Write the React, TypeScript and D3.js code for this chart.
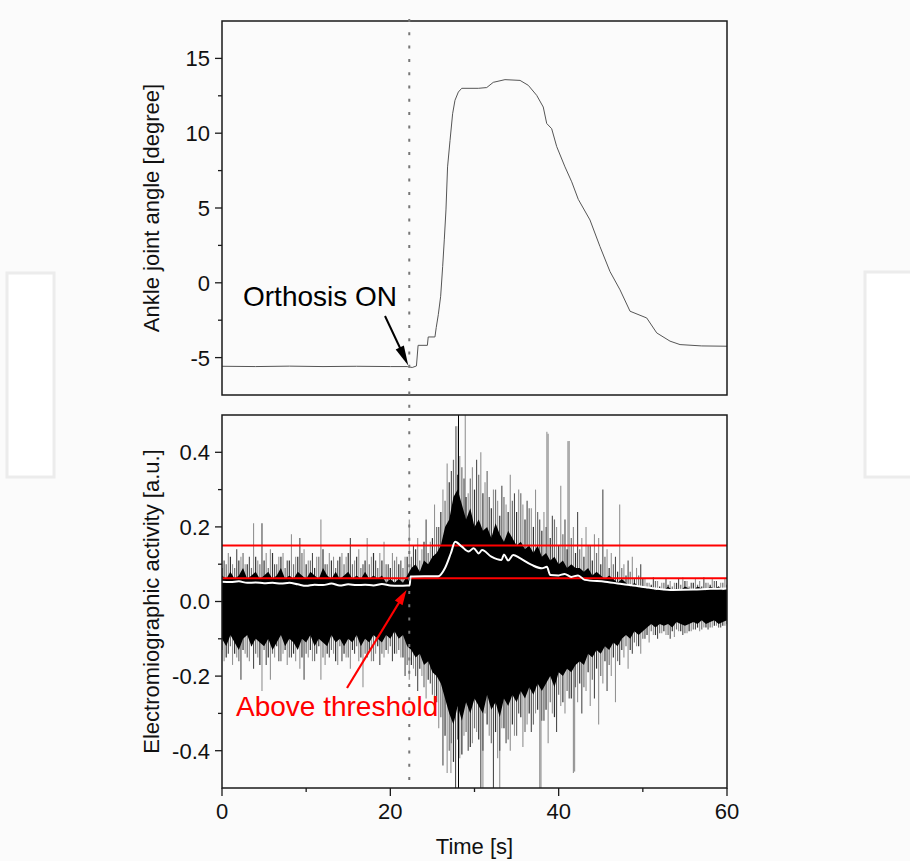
import React from "react";
import * as d3 from "d3";

// ---------- DATA ----------
const angleTime = [0, 4, 8, 12, 16, 20, 22.0, 22.6, 23.1, 23.3, 24.4, 24.5, 25.3, 25.45, 25.7, 25.98, 26.22, 26.41, 26.61, 26.8, 27.09, 27.4, 27.68, 28.08, 28.48, 30.45, 31.45, 32.23, 33.62, 35.41, 36.39, 37.39, 38.17, 38.58, 39.17, 39.77, 40.75, 41.55, 42.33, 43.72, 44.91, 46.1, 47.29, 48.48, 50.46, 51.65, 53.23, 54.42, 57, 60];
const angleDeg = [-5.58, -5.6, -5.57, -5.6, -5.58, -5.6, -5.6, -5.66, -5.56, -4.18, -4.18, -3.62, -3.62, -3.0, -2.13, -0.9, 1.1, 2.87, 4.87, 7.75, 9.5, 11.3, 12.2, 12.75, 13.0, 13.0, 13.05, 13.4, 13.58, 13.53, 13.2, 12.53, 11.75, 10.65, 10.3, 9.1, 7.75, 6.75, 5.58, 4.2, 2.42, 0.75, -0.47, -1.9, -2.35, -3.35, -3.9, -4.13, -4.22, -4.24];

// EMG dense core envelope, sampled every 0.5 s from 0 to 60 s
const emgCoreHigh = [
  0.07, 0.06, 0.08, 0.06, 0.07, 0.09, 0.06, 0.07, 0.08, 0.06,
  0.07, 0.08, 0.06, 0.07, 0.09, 0.06, 0.07, 0.06, 0.08, 0.07,
  0.06, 0.08, 0.07, 0.06, 0.09, 0.07, 0.06, 0.08, 0.06, 0.07,
  0.08, 0.06, 0.07, 0.06, 0.08, 0.06, 0.07, 0.06, 0.07, 0.05,
  0.06, 0.05, 0.06, 0.05, 0.07,
  0.09, 0.1, 0.08, 0.11, 0.1, 0.12, 0.13, 0.15,
  0.2, 0.22, 0.28, 0.3, 0.26, 0.22, 0.25, 0.2,
  0.22, 0.19, 0.2, 0.17, 0.21, 0.18, 0.16, 0.19,
  0.17, 0.15, 0.16, 0.14, 0.15, 0.13, 0.15, 0.12,
  0.13, 0.11, 0.12, 0.1, 0.11, 0.09, 0.1, 0.09,
  0.09, 0.08, 0.09, 0.07, 0.08, 0.07, 0.06, 0.07,
  0.06, 0.05, 0.06, 0.05, 0.04, 0.05, 0.04, 0.04,
  0.035, 0.04, 0.03, 0.035, 0.03, 0.04, 0.03, 0.035, 0.03, 0.04,
  0.035, 0.03, 0.04, 0.035, 0.03, 0.04, 0.035, 0.04, 0.03, 0.035,
];
const emgCoreLow = [
  -0.1, -0.12, -0.09, -0.11, -0.13, -0.1, -0.09, -0.12, -0.1, -0.11,
  -0.12, -0.1, -0.13, -0.11, -0.09, -0.12, -0.1, -0.11, -0.13, -0.1,
  -0.11, -0.09, -0.12, -0.1, -0.11, -0.12, -0.09, -0.11, -0.1, -0.12,
  -0.1, -0.11, -0.09, -0.12, -0.1, -0.11, -0.09, -0.1, -0.11, -0.09,
  -0.1, -0.08, -0.1, -0.09, -0.12,
  -0.13, -0.15, -0.14, -0.17, -0.16, -0.19, -0.2, -0.22,
  -0.26, -0.3, -0.33, -0.28, -0.32, -0.27, -0.3, -0.26,
  -0.28, -0.3, -0.25, -0.29, -0.27, -0.31, -0.26, -0.28,
  -0.25, -0.27, -0.24, -0.26, -0.23, -0.25, -0.22, -0.24,
  -0.22, -0.2, -0.23, -0.19, -0.2, -0.18, -0.19, -0.17,
  -0.16, -0.17, -0.14, -0.15, -0.13, -0.14, -0.12, -0.13,
  -0.11, -0.12, -0.1, -0.09, -0.1, -0.08, -0.09, -0.08,
  -0.07, -0.06, -0.07, -0.06, -0.065, -0.06, -0.07, -0.055, -0.06, -0.065,
  -0.06, -0.055, -0.06, -0.05, -0.06, -0.055, -0.05, -0.06, -0.055, -0.05,
];
// secondary spikes, one per half second (at 0, 0.5, ... 60 s)
const emgSpikeUp2 = [
  0.09, 0.1, 0.12, 0.09, 0.11, 0.13, 0.1, 0.09, 0.12, 0.1,
  0.11, 0.09, 0.13, 0.1, 0.12, 0.09, 0.11, 0.1, 0.12, 0.13,
  0.1, 0.11, 0.09, 0.12, 0.14, 0.1, 0.11, 0.09, 0.12, 0.1,
  0.13, 0.1, 0.12, 0.09, 0.11, 0.1, 0.13, 0.09, 0.11, 0.1,
  0.09, 0.11, 0.1, 0.09, 0.12,
  0.12, 0.14, 0.11, 0.16, 0.13, 0.17, 0.2, 0.24,
  0.27, 0.32, 0.38, 0.34, 0.36, 0.28, 0.33, 0.3,
  0.34, 0.29, 0.35, 0.25, 0.3, 0.23, 0.28, 0.24,
  0.27, 0.24, 0.29, 0.22, 0.25, 0.2, 0.24, 0.19,
  0.2, 0.17, 0.22, 0.15, 0.18, 0.14, 0.17, 0.13,
  0.14, 0.12, 0.15, 0.11, 0.13, 0.1, 0.12, 0.09,
  0.1, 0.08, 0.09, 0.07, 0.08, 0.06, 0.07, 0.06,
  0.05, 0.045, 0.055, 0.04, 0.05, 0.045, 0.04, 0.05, 0.045, 0.055,
  0.04, 0.05, 0.045, 0.04, 0.05, 0.045, 0.055, 0.04, 0.05, 0.045,
];
const emgSpikeDown2 = [
  -0.13, -0.15, -0.12, -0.14, -0.16, -0.13, -0.15, -0.12, -0.14, -0.17,
  -0.13, -0.15, -0.14, -0.12, -0.16, -0.13, -0.15, -0.14, -0.12, -0.15,
  -0.14, -0.13, -0.16, -0.12, -0.15, -0.14, -0.13, -0.16, -0.12, -0.14,
  -0.15, -0.13, -0.12, -0.15, -0.14, -0.13, -0.16, -0.12, -0.14, -0.13,
  -0.12, -0.14, -0.13, -0.15, -0.17,
  -0.17, -0.2, -0.18, -0.23, -0.21, -0.25, -0.27, -0.31,
  -0.36, -0.4, -0.43, -0.37, -0.41, -0.35, -0.39, -0.34,
  -0.37, -0.4, -0.33, -0.38, -0.35, -0.4, -0.34, -0.37,
  -0.33, -0.36, -0.31, -0.35, -0.3, -0.33, -0.29, -0.32,
  -0.29, -0.27, -0.31, -0.25, -0.27, -0.24, -0.26, -0.23,
  -0.22, -0.23, -0.19, -0.21, -0.18, -0.2, -0.16, -0.17,
  -0.15, -0.16, -0.13, -0.12, -0.13, -0.11, -0.12, -0.1,
  -0.09, -0.08, -0.09, -0.085, -0.08, -0.09, -0.08, -0.075, -0.08, -0.085,
  -0.08, -0.075, -0.07, -0.075, -0.07, -0.07, -0.065, -0.07, -0.065, -0.06,
];
// EMG spike extremes, one per half second (at 0.25, 0.75, ... 59.75 s)
const emgPeakUp = [
  0.11, 0.13, 0.1, 0.14, 0.12, 0.1, 0.12, 0.21, 0.11, 0.21,
  0.13, 0.14, 0.1, 0.12, 0.13, 0.11, 0.18, 0.12, 0.17, 0.14,
  0.11, 0.13, 0.12, 0.22, 0.1, 0.13, 0.12, 0.11, 0.13, 0.12,
  0.17, 0.11, 0.14, 0.1, 0.17, 0.12, 0.11, 0.13, 0.16, 0.1,
  0.13, 0.12, 0.11, 0.12,
  0.22, 0.15, 0.17, 0.14, 0.22, 0.16, 0.26, 0.2,
  0.3, 0.37, 0.35, 0.47, 0.39, 0.33, 0.29, 0.36,
  0.38, 0.4, 0.32, 0.28, 0.3, 0.27, 0.31, 0.26,
  0.34, 0.29, 0.3, 0.26, 0.27, 0.25, 0.3, 0.22,
  0.24, 0.45, 0.23, 0.2, 0.31, 0.22, 0.43, 0.2,
  0.24, 0.17, 0.2, 0.15, 0.18, 0.17, 0.3, 0.14,
  0.13, 0.12, 0.26, 0.1, 0.11, 0.12, 0.09, 0.1,
  0.06, 0.05, 0.065, 0.055, 0.05, 0.06, 0.055, 0.05, 0.06, 0.065,
  0.055, 0.05, 0.06, 0.055, 0.065, 0.05, 0.06, 0.055, 0.05, 0.06,
];
const emgPeakDown = [
  -0.16, -0.14, -0.17, -0.15, -0.21, -0.14, -0.16, -0.18, -0.15, -0.24,
  -0.17, -0.21, -0.15, -0.16, -0.14, -0.17, -0.15, -0.16, -0.18, -0.21,
  -0.15, -0.16, -0.14, -0.21, -0.17, -0.15, -0.14, -0.17, -0.16, -0.15,
  -0.18, -0.14, -0.16, -0.23, -0.15, -0.16, -0.14, -0.17, -0.15, -0.14,
  -0.16, -0.14, -0.15, -0.2,
  -0.21, -0.18, -0.24, -0.2, -0.26, -0.22, -0.3, -0.34,
  -0.44, -0.46, -0.38, -0.5, -0.42, -0.36, -0.4, -0.38,
  -0.35, -0.5, -0.3, -0.36, -0.5, -0.42, -0.34, -0.38,
  -0.4, -0.36, -0.3, -0.39, -0.33, -0.35, -0.3, -0.5,
  -0.32, -0.38, -0.3, -0.35, -0.28, -0.3, -0.26, -0.46,
  -0.27, -0.3, -0.24, -0.28, -0.26, -0.33, -0.22, -0.24,
  -0.2, -0.27, -0.17, -0.15, -0.18, -0.14, -0.12, -0.14,
  -0.1, -0.11, -0.09, -0.1, -0.085, -0.09, -0.1, -0.095, -0.08, -0.09,
  -0.085, -0.08, -0.075, -0.08, -0.07, -0.075, -0.07, -0.065, -0.07, -0.065,
];
// isolated tall spikes [time, low, high]
const emgTallSpikes = [
  [28.1, -0.6, 0.6],
  [28.9, 0, 0.6],
  [27.9, 0, 0.47],
  [38.6, 0, 0.455],
  [41.1, 0, 0.43],
  [31.0, -0.6, 0],
  [33.0, -0.6, 0],
  [37.9, -0.6, 0],
  [41.9, -0.456, 0],
  [27.2, -0.46, 0],
];

// smoothed envelope – white line
const envTime = [0, 1, 2, 3, 4, 5, 6, 7, 8, 9, 10, 11, 12, 13, 14, 15, 16, 17, 18, 19, 20, 21, 22, 22.3, 22.4, 25.7, 26.5, 27.2, 27.7, 28.5, 29.3, 29.9, 30.5, 30.9, 32.0, 33.2, 33.5, 34.0, 34.6, 35.4, 36.8, 38.0, 38.6, 39.0, 40.0, 40.7, 41.5, 42.3, 43.1, 45.5, 47.5, 49.7, 51.5, 53.6, 56, 58, 60];
const envValue = [0.053, 0.052, 0.054, 0.05, 0.051, 0.049, 0.05, 0.048, 0.05, 0.046, 0.042, 0.045, 0.044, 0.048, 0.043, 0.046, 0.044, 0.045, 0.043, 0.047, 0.043, 0.042, 0.043, 0.043, 0.067, 0.068, 0.09, 0.13, 0.16, 0.147, 0.134, 0.143, 0.129, 0.138, 0.12, 0.111, 0.126, 0.11, 0.125, 0.116, 0.098, 0.089, 0.093, 0.071, 0.07, 0.074, 0.066, 0.07, 0.058, 0.053, 0.047, 0.04, 0.035, 0.031, 0.032, 0.034, 0.035];

const thresholds = [0.15, 0.062];
const orthosisOnTime = 22.25;

const xMajor = [0, 20, 40, 60];
const xMinor = [10, 30, 50];
const angleMajor = [-5, 0, 5, 10, 15];
const angleMinor = [-2.5, 2.5, 7.5, 12.5];
const emgMajor = [-0.4, -0.2, 0, 0.2, 0.4];
const emgMinor = [-0.3, -0.1, 0.1, 0.3];

// ---------- LAYOUT ----------
const W = 910;
const H = 861;
const L = 222;
const R = 727;
const topP = { top: 21, bottom: 395 };
const botP = { top: 415, bottom: 788 };
const FONT = "'Liberation Sans', Arial, Helvetica, sans-serif";
const FS = 22;

function arrowHead(tip: number[], from: number[], len: number, hw: number) {
  const ang = Math.atan2(tip[1] - from[1], tip[0] - from[0]);
  const bx = tip[0] - len * Math.cos(ang);
  const by = tip[1] - len * Math.sin(ang);
  return `M${tip[0]},${tip[1]} L${bx + hw * Math.sin(ang)},${by - hw * Math.cos(ang)} L${bx - hw * Math.sin(ang)},${by + hw * Math.cos(ang)} Z`;
}

export default function App() {
  const x = d3.scaleLinear().domain([0, 60]).range([L, R]);
  const yA = d3.scaleLinear().domain([-7.5, 17.5]).range([topP.bottom, topP.top]);
  const yE = d3.scaleLinear().domain([-0.5, 0.5]).range([botP.bottom, botP.top]);

  const angleLine = d3
    .line<number>()
    .x((_, i) => x(angleTime[i]))
    .y((d) => yA(d))(angleDeg);

  const coreArea = d3
    .area<number>()
    .x((_, i) => x(i * 0.5))
    .y0((_, i) => yE(emgCoreLow[i]))
    .y1((d) => yE(d))(emgCoreHigh);

  const envLine = d3
    .line<number>()
    .x((_, i) => x(envTime[i]))
    .y((d) => yE(d))
    .curve(d3.curveMonotoneX)(envValue);

  const fmtE = (v: number) => (v === 0 ? "0.0" : d3.format(".1f")(v).replace("−", "-"));

  const tickLabelStyle = { fontFamily: FONT, fontSize: FS, fill: "#111" } as const;
  const yOrthTip = yA(-5.6) - 1;
  const orthTip = [x(orthosisOnTime) - 1, yOrthTip];
  const orthFrom = [385, 316];
  const redTip = [406.5, 590];
  const redFrom = [347, 688];

  const spikeLine = (t: number, v: number, key: string, op: number, w = 1.1) => (
    <line key={key} x1={x(t)} x2={x(t)} y1={yE(0)} y2={yE(v)} stroke="#000" strokeOpacity={op} strokeWidth={w} />
  );

  return (
    <div style={{ position: "absolute", left: 0, top: 0 }}>
      <svg width={W} height={H} style={{ display: "block" }}>
        <defs>
          <clipPath id="clipE">
            <rect x={L} y={botP.top} width={R - L} height={botP.bottom - botP.top} />
          </clipPath>
        </defs>
        <rect x={0} y={0} width={W} height={H} fill="#fbfbfb" />
        {/* faint side frames */}
        <rect x={7} y={273} width={47} height={204} fill="#fff" stroke="#ececec" strokeWidth={3} />
        <rect x={865} y={272} width={50} height={205} fill="#fff" stroke="#ececec" strokeWidth={3} />

        {/* ---------- top panel ---------- */}
        <path d={angleLine ?? ""} fill="none" stroke="#555" strokeWidth={1} />
        <rect x={L} y={topP.top} width={R - L} height={topP.bottom - topP.top} fill="none" stroke="#1a1a1a" strokeWidth={1.5} />
        {angleMajor.map((v) => (
          <g key={"am" + v}>
            <line x1={L - 7} x2={L} y1={yA(v)} y2={yA(v)} stroke="#1a1a1a" strokeWidth={1.3} />
            <text x={L - 12} y={yA(v)} dy="0.36em" textAnchor="end" {...tickLabelStyle}>
              {String(v)}
            </text>
          </g>
        ))}
        {angleMinor.map((v) => (
          <line key={"an" + v} x1={L - 4} x2={L} y1={yA(v)} y2={yA(v)} stroke="#1a1a1a" strokeWidth={1.3} />
        ))}
        <text
          transform={`translate(159,${(topP.top + topP.bottom) / 2}) rotate(-90)`}
          textAnchor="middle"
          style={{ fontFamily: FONT, fontSize: FS, fill: "#111" }}
        >
          Ankle joint angle [degree]
        </text>

        {/* ---------- bottom panel ---------- */}
        <g clipPath="url(#clipE)">
          {emgSpikeUp2.map((v, i) => spikeLine(i * 0.5, v, "su" + i, i % 2 ? 0.55 : 0.8, 1.2))}
          {emgSpikeDown2.map((v, i) => spikeLine(i * 0.5, v, "sd" + i, i % 2 ? 0.8 : 0.55, 1.2))}
          <path d={coreArea ?? ""} fill="#000" />
          {emgPeakUp.map((v, i) => spikeLine(i * 0.5 + 0.25, v, "pu" + i, i % 3 === 0 ? 0.7 : 0.42))}
          {emgPeakDown.map((v, i) => spikeLine(i * 0.5 + 0.25, v, "pd" + i, i % 3 === 1 ? 0.7 : 0.42))}
          {emgTallSpikes.map((s, i) => (
            <line
              key={"ts" + i}
              x1={x(s[0])}
              x2={x(s[0])}
              y1={yE(s[1])}
              y2={yE(s[2])}
              stroke="#000"
              strokeOpacity={i === 0 ? 1 : 0.45}
              strokeWidth={1}
            />
          ))}
          {thresholds.map((t) => (
            <line key={"th" + t} x1={L} x2={R} y1={yE(t)} y2={yE(t)} stroke="#ff0000" strokeWidth={2} />
          ))}
          <path d={envLine ?? ""} fill="none" stroke="#fff" strokeWidth={2} />
        </g>
        <rect x={L} y={botP.top} width={R - L} height={botP.bottom - botP.top} fill="none" stroke="#1a1a1a" strokeWidth={1.5} />
        {emgMajor.map((v) => (
          <g key={"em" + v}>
            <line x1={L - 7} x2={L} y1={yE(v)} y2={yE(v)} stroke="#1a1a1a" strokeWidth={1.3} />
            <text x={L - 12} y={yE(v)} dy="0.36em" textAnchor="end" {...tickLabelStyle}>
              {fmtE(v)}
            </text>
          </g>
        ))}
        {emgMinor.map((v) => (
          <line key={"en" + v} x1={L - 4} x2={L} y1={yE(v)} y2={yE(v)} stroke="#1a1a1a" strokeWidth={1.3} />
        ))}
        {xMajor.map((v) => (
          <g key={"xm" + v}>
            <line x1={x(v)} x2={x(v)} y1={botP.bottom} y2={botP.bottom + 8} stroke="#1a1a1a" strokeWidth={1.3} />
            <text x={x(v)} y={819} textAnchor="middle" {...tickLabelStyle}>
              {String(v)}
            </text>
          </g>
        ))}
        {xMinor.map((v) => (
          <line key={"xn" + v} x1={x(v)} x2={x(v)} y1={botP.bottom} y2={botP.bottom + 4} stroke="#1a1a1a" strokeWidth={1.3} />
        ))}
        <text x={(L + R) / 2} y={854} textAnchor="middle" style={{ fontFamily: FONT, fontSize: FS, fill: "#111" }}>
          Time [s]
        </text>
        <text
          transform={`translate(159,${(botP.top + botP.bottom) / 2}) rotate(-90)`}
          textAnchor="middle"
          style={{ fontFamily: FONT, fontSize: FS, fill: "#111" }}
        >
          Electromiographic activity [a.u.]
        </text>

        {/* orthosis ON dotted marker */}
        <line
          x1={x(orthosisOnTime)}
          x2={x(orthosisOnTime)}
          y1={19}
          y2={botP.bottom - 2}
          stroke="#777"
          strokeWidth={2}
          strokeDasharray="3 10.3"
        />

        {/* annotations */}
        <text x={243} y={306} style={{ fontFamily: FONT, fontSize: 28, fill: "#000" }}>
          Orthosis ON
        </text>
        <line x1={orthFrom[0]} y1={orthFrom[1]} x2={401} y2={350} stroke="#000" strokeWidth={2} />
        <path d={arrowHead(orthTip, orthFrom, 20, 4.5)} fill="#000" />

        <text x={236} y={716} style={{ fontFamily: FONT, fontSize: 28, fill: "#ff0000" }}>
          Above threshold
        </text>
        <line x1={redFrom[0]} y1={redFrom[1]} x2={400} y2={601} stroke="#ff0000" strokeWidth={2.2} />
        <path d={arrowHead(redTip, redFrom, 15, 4.5)} fill="#ff0000" />
      </svg>
    </div>
  );
}
